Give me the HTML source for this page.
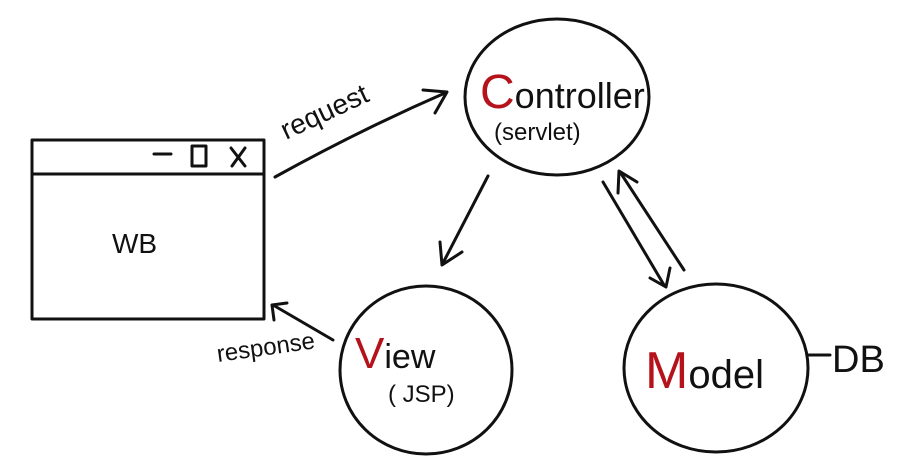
<!DOCTYPE html>
<html><head><style>
html,body{margin:0;padding:0;background:#fff;}
svg{display:block}
text{font-family:"Liberation Sans",sans-serif;fill:#111}
</style></head><body>
<svg width="900" height="457" viewBox="0 0 900 457" xmlns="http://www.w3.org/2000/svg">
<g fill="none" stroke="#111" stroke-width="3" stroke-linecap="round" stroke-linejoin="round">
<rect x="32" y="140" width="232" height="179"/>
<line x1="32" y1="174" x2="264" y2="174"/>
<line x1="154" y1="154" x2="171" y2="154"/>
<rect x="192" y="146" width="14" height="20"/>
<line x1="231" y1="148" x2="245" y2="166"/><line x1="245" y1="148" x2="232" y2="166"/>
<ellipse cx="557" cy="97" rx="92" ry="78"/>
<ellipse cx="426" cy="370" rx="86" ry="84"/>
<ellipse cx="716" cy="368" rx="92" ry="84"/>
<line x1="808" y1="355" x2="830" y2="355"/>
<path d="M275 177 Q360 130 445 93"/>
<path d="M423 90 L447 92 L435 113"/>
<line x1="488" y1="176" x2="443" y2="263"/>
<path d="M440 242 L442 265 L462 252"/>
<line x1="603" y1="182" x2="664" y2="285"/>
<path d="M650 278 L666 287 L670 268"/>
<line x1="684" y1="270" x2="620" y2="172"/>
<path d="M618 193 L619 171 L637 182"/>
<line x1="333" y1="340" x2="273" y2="305"/>
<path d="M274 320 L272 305 L287 303"/>
</g>
<text x="112" y="253" font-size="28">WB</text>
<text x="0" y="0" font-size="28" transform="translate(286,140) rotate(-25)">request</text>
<text x="480" y="108" font-size="36"><tspan fill="#b5121b" font-size="48">C</tspan>ontroller</text>
<text x="494" y="140" font-size="24">(servlet)</text>
<text x="355" y="368" font-size="34"><tspan fill="#b5121b" font-size="44">V</tspan>iew</text>
<text x="388" y="402" font-size="24">( JSP)</text>
<text x="645" y="388" font-size="40"><tspan fill="#b5121b" font-size="52">M</tspan>odel</text>
<text x="832" y="372" font-size="38">DB</text>
<text x="218" y="362" font-size="24" transform="rotate(-8 218 362)">response</text>
</svg>
</body></html>
